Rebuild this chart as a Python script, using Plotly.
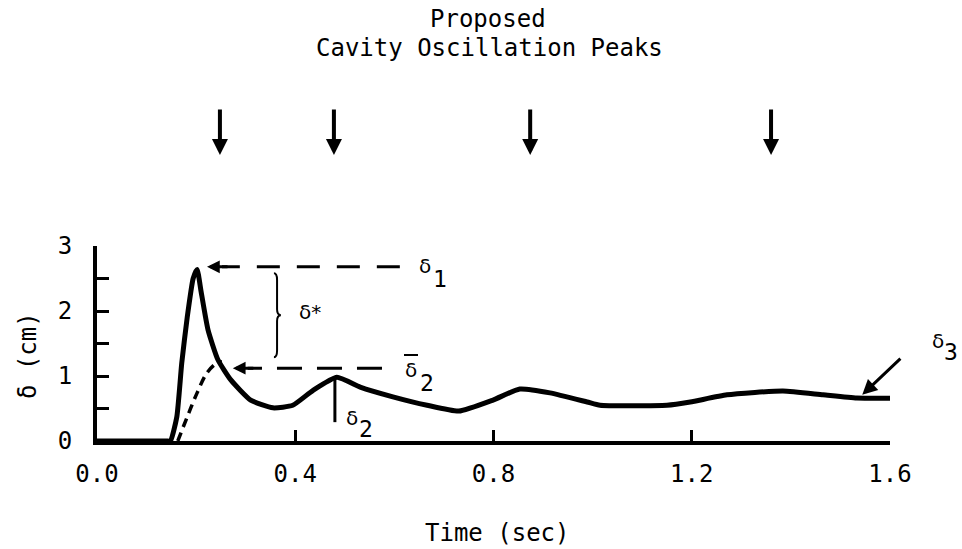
import plotly.graph_objects as go

# ---- data ----
time_s = [0.0, 0.100, 0.140, 0.148, 0.161, 0.171, 0.182, 0.194, 0.202, 0.210, 0.224, 0.244,
          0.270, 0.310, 0.355, 0.395, 0.436, 0.484, 0.531, 0.597, 0.666, 0.730,
          0.799, 0.853, 0.914, 0.989, 1.015, 1.150, 1.197, 1.271, 1.384, 1.465,
          1.533, 1.606]
delta_cm = [0.0, 0.0, 0.0, 0.0, 0.37, 1.2, 1.9, 2.5, 2.64, 2.3, 1.71, 1.25,
            0.94, 0.63, 0.51, 0.55, 0.78, 0.98, 0.83, 0.68, 0.55, 0.46,
            0.63, 0.80, 0.74, 0.60, 0.55, 0.55, 0.60, 0.71, 0.77, 0.71,
            0.66, 0.66]

dashed_time = [0.163, 0.182, 0.202, 0.222, 0.242, 0.252]
dashed_delta = [0.0, 0.37, 0.74, 1.05, 1.20, 1.22]

x_tickvals = [0.0, 0.4, 0.8, 1.2, 1.6]
x_ticktext = ["0.0", "0.4", "0.8", "1.2", "1.6"]
y_tickvals = [0, 0.5, 1, 1.5, 2, 2.5, 3]
y_ticktext = ["0", "", "1", "", "2", "", "3"]

peak_times = [0.248, 0.478, 0.874, 1.360]        # proposed cavity oscillation peaks
delta1_level = 2.68
delta1_span = [0.611, 0.222]
delta2bar_level = 1.12
delta2bar_span = [0.575, 0.274]
delta2_time = 0.480
delta2_range = [0.97, 0.29]
delta_star_time = 0.357
delta_star_range = [2.58, 1.29]
delta3_tip = [1.544, 0.71]
delta3_tail = [1.624, 1.29]

FONT = "DejaVu Sans Mono"
GREEK = "DejaVu Sans"
X_RANGE = [0, 1.6]
Y_RANGE = [0, 3]

# plot-area geometry in pixels (for placing text)
L, R, T, B = 97, 890, 246, 441


def px2paper(px, py):
    return (px - L) / (R - L), (B - py) / (B - T)


fig = go.Figure()
fig.add_trace(go.Scatter(x=time_s, y=delta_cm, mode="lines",
                         line=dict(color="black", width=5, shape="spline", smoothing=0.5),
                         hoverinfo="skip", showlegend=False))
fig.add_trace(go.Scatter(x=dashed_time, y=dashed_delta, mode="lines",
                         line=dict(color="black", width=3.5, dash="9px,6px", shape="spline"),
                         hoverinfo="skip", showlegend=False))

shapes = []
annotations = []

# delta1 dashed arrow
shapes.append(dict(type="line", xref="x", yref="y", x0=delta1_span[0], x1=delta1_span[1] + 0.03,
                   y0=delta1_level, y1=delta1_level,
                   line=dict(color="black", width=3, dash="23px,17px")))
annotations.append(dict(x=delta1_span[1], y=delta1_level, xref="x", yref="y",
                        ax=22, ay=0, axref="pixel", ayref="pixel", text="", showarrow=True,
                        arrowhead=2, arrowsize=0.85, arrowwidth=3, arrowcolor="black"))
# delta2-bar dashed arrow
shapes.append(dict(type="line", xref="x", yref="y", x0=delta2bar_span[0], x1=delta2bar_span[1] + 0.03,
                   y0=delta2bar_level, y1=delta2bar_level,
                   line=dict(color="black", width=3, dash="25px,15px")))
annotations.append(dict(x=delta2bar_span[1], y=delta2bar_level, xref="x", yref="y",
                        ax=22, ay=0, axref="pixel", ayref="pixel", text="", showarrow=True,
                        arrowhead=2, arrowsize=0.85, arrowwidth=3, arrowcolor="black"))
# delta2 vertical
shapes.append(dict(type="line", xref="x", yref="y", x0=delta2_time, x1=delta2_time,
                   y0=delta2_range[0], y1=delta2_range[1],
                   line=dict(color="black", width=3)))
# brace for delta*
bx = delta_star_time
w = 0.014
top, bot = delta_star_range
mid = (top + bot) / 2
h = top - bot
path = (f"M {bx},{top} Q {bx + 0.45*w},{top} {bx + 0.45*w},{top - 0.08*h} "
        f"L {bx + 0.45*w},{mid + 0.07*h} Q {bx + 0.45*w},{mid} {bx + w},{mid} "
        f"Q {bx + 0.45*w},{mid} {bx + 0.45*w},{mid - 0.07*h} "
        f"L {bx + 0.45*w},{bot + 0.08*h} Q {bx + 0.45*w},{bot} {bx},{bot}")
shapes.append(dict(type="path", xref="x", yref="y", path=path,
                   line=dict(color="black", width=2)))
# delta3 arrow
annotations.append(dict(x=delta3_tip[0], y=delta3_tip[1], xref="x", yref="y",
                        ax=delta3_tail[0], ay=delta3_tail[1], axref="x", ayref="y",
                        text="", showarrow=True, arrowhead=2, arrowsize=1,
                        arrowwidth=3, arrowcolor="black"))

# top arrows (proposed peaks)
for t in peak_times:
    annotations.append(dict(x=t, y=(B - 155) / (B - T), xref="x", yref="paper",
                            ax=0, ay=-47, axref="pixel", ayref="pixel", text="",
                            showarrow=True, arrowhead=2, arrowsize=0.8, arrowwidth=4,
                            arrowcolor="black"))


def text_px(px, py, s, size, family=FONT, angle=0):
    xp, yp = px2paper(px, py)
    annotations.append(dict(x=xp, y=yp, xref="paper", yref="paper", text=s,
                            showarrow=False, xanchor="center", yanchor="middle",
                            textangle=angle,
                            font=dict(family=family, size=size, color="black")))


# symbol labels
text_px(425, 266, "δ", 20, GREEK)
text_px(440, 279, "1", 23)
text_px(411, 370, "δ", 20, GREEK)
text_px(427, 383, "2", 23)
xb0, yb = px2paper(404, 355)
xb1, _ = px2paper(418, 355)
shapes.append(dict(type="line", xref="paper", yref="paper", x0=xb0, x1=xb1, y0=yb, y1=yb,
                   line=dict(color="black", width=2)))
text_px(352, 418, "δ", 20, GREEK)
text_px(366, 429, "2", 23)
text_px(310, 312, "δ*", 20, GREEK)
text_px(938, 341, "δ", 20, GREEK)
text_px(951, 352, "3", 23)

# titles
text_px(488, 19, "Proposed", 24)
text_px(489, 48, "Cavity Oscillation Peaks", 24)
text_px(497, 533, "Time (sec)", 24)
text_px(28, 356, "δ (cm)", 24, angle=-90)

axis_common = dict(showline=True, linewidth=4, linecolor="black", mirror=False,
                   ticks="inside", tickcolor="black", showgrid=False, zeroline=False,
                   tickfont=dict(family=FONT, size=24, color="black"), fixedrange=True)

fig.update_layout(
    width=962, height=549, autosize=False,
    margin=dict(l=L, r=962 - R, t=T, b=549 - B, pad=0),
    paper_bgcolor="white", plot_bgcolor="white",
    xaxis=dict(range=X_RANGE, tickvals=x_tickvals, ticktext=x_ticktext,
               ticklen=11, tickwidth=2.5, ticklabelstandoff=8, **axis_common),
    yaxis=dict(range=Y_RANGE, tickvals=y_tickvals, ticktext=y_ticktext,
               ticklen=12, tickwidth=3, ticklabelstandoff=16, **axis_common),
    shapes=shapes, annotations=annotations, showlegend=False,
)

fig.write_html("out.html", config={"displayModeBar": False},
               post_script="document.body.style.margin='0';document.body.style.padding='0';")
